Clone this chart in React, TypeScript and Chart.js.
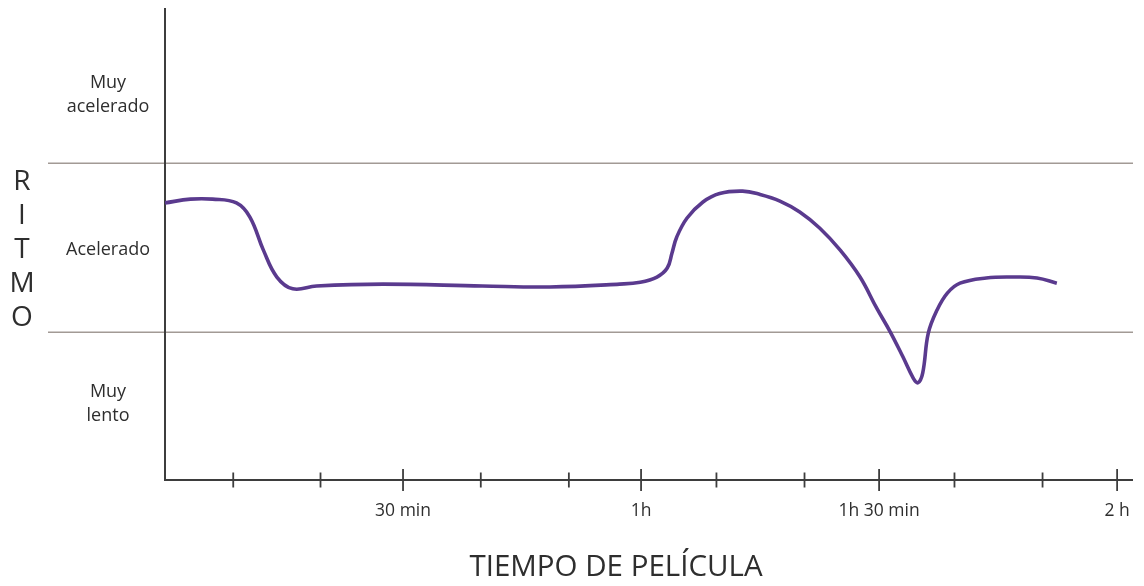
import React, { useEffect, useRef } from "react";
import { Chart, registerables } from "chart.js";

Chart.register(...registerables);

// ---- data ----
const timeMinutes = [0, 3.2, 6, 9, 10.7, 12.4, 14.1, 16.1, 19.1, 27.5, 40, 48.5, 57.3, 59.9, 62.0, 63.3, 63.9, 64.5, 65.8, 67.8, 69.9, 72.8, 75.0, 77.5, 80.0, 82.5, 85.1, 87.6, 89.7, 91.4, 93.0, 94.3, 94.9, 95.5, 96.2, 97.3, 98.6, 100.2, 103.5, 106.9, 109.9, 112.4];
const ritmo = [5.87, 5.95, 5.95, 5.87, 5.57, 4.87, 4.3, 4.05, 4.11, 4.15, 4.11, 4.09, 4.15, 4.19, 4.3, 4.49, 4.81, 5.15, 5.55, 5.89, 6.07, 6.12, 6.05, 5.91, 5.68, 5.34, 4.87, 4.3, 3.64, 3.14, 2.61, 2.16, 2.06, 2.27, 3.11, 3.6, 3.96, 4.17, 4.28, 4.3, 4.28, 4.17];
const majorTicks = [30, 60, 90, 120];
const majorTickLabels = ["30 min", "1h", "1h 30 min", "2 h"];
const minorTicks = [8.6, 19.6, 39.8, 50.9, 69.5, 80.6, 99.5, 110.6];
const bandLimits = [3.14, 6.72];
const levelLabels = [["Muy", "lento"], ["Acelerado"], ["Muy", "acelerado"]];
const levelLabelValues = [1.61, 4.87, 8.16];
const yAxisTitle = "RITMO";
const xAxisTitle = "TIEMPO DE PELÍCULA";

const FONT = '"Open Sans", "DejaVu Sans", sans-serif';
const TEXT = "#2e2e2e";
const AXIS = "#3d3d3d";
const BAND = "#a29a95";

const decorPlugin = {
  id: "decor",
  beforeDatasetsDraw(chart: any) {
    const { ctx, chartArea } = chart;
    const xs = chart.scales.x;
    const ys = chart.scales.y;
    ctx.save();

    // band lines
    ctx.strokeStyle = BAND;
    ctx.lineWidth = 1.5;
    bandLimits.forEach((v) => {
      const y = Math.round(ys.getPixelForValue(v)) + 0.25;
      ctx.beginPath();
      ctx.moveTo(48, y);
      ctx.lineTo(chartArea.right, y);
      ctx.stroke();
    });

    // axes
    ctx.strokeStyle = AXIS;
    ctx.lineWidth = 2;
    const x0 = xs.getPixelForValue(0);
    const yb = ys.getPixelForValue(0);
    ctx.beginPath();
    ctx.moveTo(x0, chartArea.top);
    ctx.lineTo(x0, yb);
    ctx.lineTo(chartArea.right, yb);
    ctx.stroke();

    // ticks
    ctx.lineWidth = 1.8;
    minorTicks.forEach((t) => {
      const x = xs.getPixelForValue(t);
      ctx.beginPath();
      ctx.moveTo(x, yb - 7.5);
      ctx.lineTo(x, yb + 7.5);
      ctx.stroke();
    });
    majorTicks.forEach((t) => {
      const x = xs.getPixelForValue(t);
      ctx.beginPath();
      ctx.moveTo(x, yb - 11);
      ctx.lineTo(x, yb + 11);
      ctx.stroke();
    });

    // tick labels
    ctx.fillStyle = TEXT;
    ctx.font = `17.5px ${FONT}`;
    ctx.textAlign = "center";
    ctx.textBaseline = "middle";
    majorTicks.forEach((t, i) => {
      ctx.fillText(majorTickLabels[i], xs.getPixelForValue(t), yb + 31);
    });

    // level labels
    ctx.font = `18px ${FONT}`;
    levelLabels.forEach((lines, i) => {
      const cy = ys.getPixelForValue(levelLabelValues[i]);
      const lh = 24;
      const start = cy - ((lines.length - 1) * lh) / 2;
      lines.forEach((s, j) => {
        ctx.fillText(s, 108, start + j * lh);
      });
    });

    // y title, stacked letters
    ctx.font = `28px ${FONT}`;
    const letters = yAxisTitle.split("");
    const cy = ys.getPixelForValue(levelLabelValues[1]);
    const sp = 34;
    letters.forEach((c, i) => {
      ctx.fillText(c, 22, cy + (i - (letters.length - 1) / 2) * sp);
    });

    // x title
    ctx.font = `29.5px ${FONT}`;
    ctx.fillText(xAxisTitle, 616, 568);

    ctx.restore();
  },
};

export default function App() {
  const ref = useRef<HTMLCanvasElement | null>(null);
  useEffect(() => {
    if (!ref.current) return;
    const chart = new Chart(ref.current, {
      type: "line",
      data: {
        datasets: [
          {
            data: timeMinutes.map((t, i) => ({ x: t, y: ritmo[i] })),
            borderColor: "#5a3a8e",
            borderWidth: 3.6,
            pointRadius: 0,
            tension: 0.4,
            fill: false,
          },
        ],
      },
      options: {
        responsive: false,
        animation: false,
        layout: { padding: { left: 165, right: 11, top: 8, bottom: 106 } },
        plugins: { legend: { display: false }, tooltip: { enabled: false } },
        scales: {
          x: { type: "linear", min: 0, max: 122, display: false },
          y: { type: "linear", min: 0, max: 10, display: false },
        },
      },
      plugins: [decorPlugin],
    } as any);
    return () => chart.destroy();
  }, []);
  return (
    <div style={{ position: "absolute", left: 0, top: 0, width: 1144, height: 586, background: "#fff" }}>
      <canvas ref={ref} width={1144} height={586} style={{ width: 1144, height: 586 }} />
    </div>
  );
}
